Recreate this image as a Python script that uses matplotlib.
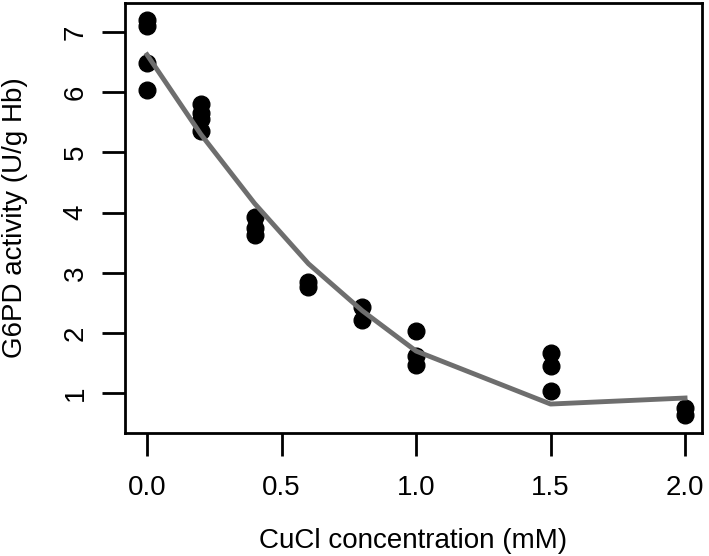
import matplotlib
matplotlib.use("Agg")
import matplotlib.pyplot as plt

# data points
conc = [0.0, 0.0, 0.0, 0.0,
        0.2, 0.2, 0.2, 0.2,
        0.4, 0.4, 0.4,
        0.6, 0.6,
        0.8, 0.8,
        1.0, 1.0, 1.0,
        1.5, 1.5, 1.5,
        2.0, 2.0]
activity = [7.2, 7.1, 6.48, 6.04,
            5.8, 5.65, 5.55, 5.35,
            3.92, 3.75, 3.62,
            2.84, 2.76,
            2.43, 2.22,
            2.03, 1.62, 1.47,
            1.67, 1.45, 1.03,
            0.75, 0.63]

# fitted / mean line
line_x = [0.0, 0.2, 0.4, 0.6, 0.8, 1.0, 1.5, 2.0]
line_y = [6.62, 5.3, 4.15, 3.15, 2.37, 1.7, 0.82, 0.92]

xticks = [0.0, 0.5, 1.0, 1.5, 2.0]
xtick_labels = ["0.0", "0.5", "1.0", "1.5", "2.0"]
yticks = [1, 2, 3, 4, 5, 6, 7]

plt.rcParams['font.family'] = ['Liberation Sans', 'DejaVu Sans']

fig = plt.figure(figsize=(7.09, 5.56), dpi=100)
ax = fig.add_axes([125/709, 1-433/556, (702-125)/709, (433-3)/556])

ax.plot(conc, activity, 'o', color='black', ms=12, zorder=2)
ax.plot(line_x, line_y, '-', color='#6e6e6e', lw=3.5, zorder=3)

ax.set_xlim(-0.082, 2.063)
ax.set_ylim(0.339, 7.48)
ax.set_xticks(xticks)
ax.set_xticklabels(xtick_labels)
ax.set_yticks(yticks)
for lbl in ax.get_yticklabels():
    lbl.set_rotation(90)
    lbl.set_va('center')

ax.tick_params(axis='both', length=16.5, width=2, labelsize=20, color='black')
ax.tick_params(axis='x', pad=14)
ax.tick_params(axis='y', pad=9.8)
for s in ax.spines.values():
    s.set_linewidth(2)

ax.set_xlabel("CuCl concentration (mM)", fontsize=20, labelpad=19.5)
ax.set_ylabel("G6PD activity (U/g Hb)", fontsize=20, labelpad=24.5)

fig.savefig("out.png", dpi=100)
